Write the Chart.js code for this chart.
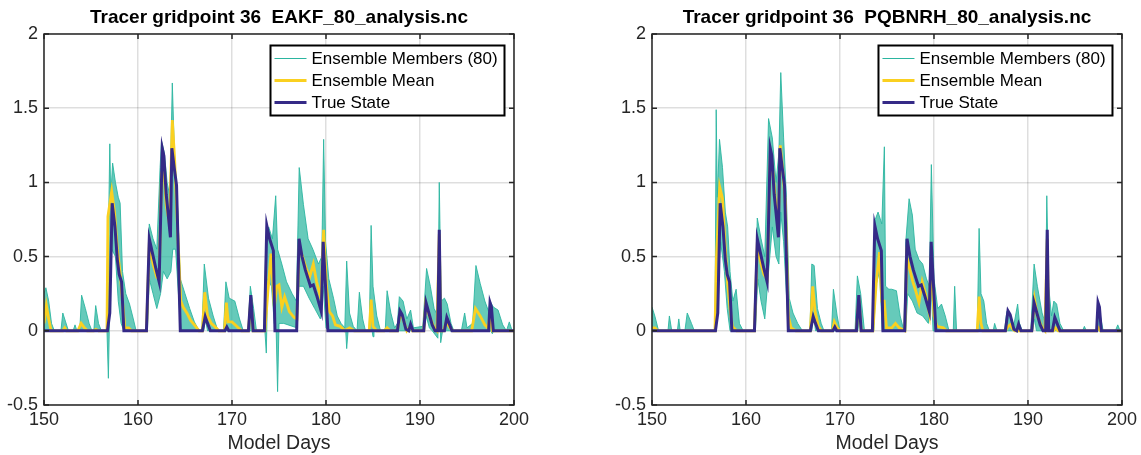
<!DOCTYPE html>
<html>
<head>
<meta charset="utf-8">
<script src="https://cdn.jsdelivr.net/npm/chart.js@4.4.1/dist/chart.umd.min.js"></script>
<style>
  html, body { margin: 0; padding: 0; background: #fff; }
  .panel { position: absolute; top: 0; height: 455px; }
  #p1 { left: 0; width: 570px; }
  #p2 { left: 570px; width: 571px; }
</style>
</head>
<body>
<div class="panel" id="p1"><canvas id="chartEakf"></canvas></div>
<div class="panel" id="p2"><canvas id="chartPq"></canvas></div>
<script>
// x ticks / y ticks
const dayTicks = [150, 160, 170, 180, 190, 200];
const valueTicks = [-0.5, 0, 0.5, 1, 1.5, 2];
const legendLabels = ["Ensemble Members (80)", "Ensemble Mean", "True State"];

// true state (same in both panels) : [model day, value]
const trueState = [[150,0],[156.75,0],[157.0,0.12],[157.25,0.86],[157.55,0.7],[157.8,0.48],[158.0,0.38],[158.25,0.33],[158.5,0],
  [160.9,0],[161.2,0.62],[161.55,0.52],[161.9,0.42],[162.25,0.33],[162.58,1.23],[162.75,1.18],[163.0,0.92],[163.25,0.76],[163.45,0.63],[163.6,1.23],[163.85,1.1],[164.1,0.98],[164.5,0],
  [166.85,0],[167.15,0.095],[167.4,0.05],[167.7,0],[169.25,0],[169.45,0.025],[169.65,0],
  [171.75,0],[172.0,0.24],[172.25,0],[173.45,0],[173.7,0.71],[174.0,0.62],[174.4,0.54],[174.57,0],
  [176.88,0],[177.13,0.62],[177.45,0.5],[177.8,0.41],[178.1,0.35],[178.35,0.3],[178.65,0.31],[179.0,0.24],[179.5,0.13],[179.7,0.6],[179.95,0.3],[180.2,0],
  [187.6,0],[187.87,0.135],[188.1,0.11],[188.5,0.01],[188.8,0],[189.0,0.045],[189.25,0],
  [190.4,0],[190.64,0.19],[190.9,0.13],[191.3,0.04],[191.6,0],[191.88,0],[192.05,0.68],[192.2,0],
  [192.6,0],[192.85,0.09],[193.1,0.05],[193.4,0],[197.3,0],[197.45,0.19],[197.6,0.16],[197.8,0],[200,0]];

// EAKF panel
const eakfMean = [[150,0.05],[150.25,0.17],[150.5,0.08],[150.75,0],[152.0,0],[152.2,0.02],[152.4,0],[153.6,0],[153.95,0.05],[154.3,0.02],[154.6,0],[155.3,0],[155.5,0.01],[155.8,0],
  [156.7,0],[156.8,0.77],[157.2,0.94],[157.5,0.8],[157.8,0.55],[158.1,0.39],[158.35,0.2],[158.6,0.02],[159.0,0.02],[159.3,0],
  [160.9,0],[161.2,0.58],[161.6,0.45],[162.0,0.36],[162.25,0.35],[162.5,1.06],[162.75,1.1],[163.0,0.85],[163.35,0.72],[163.65,1.42],[163.9,1.15],[164.2,0.7],[164.55,0.2],[164.8,0.16],[165.2,0.12],[165.6,0.07],[166.0,0.04],[166.5,0],
  [166.85,0],[167.1,0.26],[167.4,0.1],[167.8,0.05],[168.3,0.02],[168.6,0],[169.2,0],[169.4,0.19],[169.6,0.06],[170.0,0.06],[170.5,0.03],[171.0,0],
  [171.75,0],[172.0,0.21],[172.25,0],[173.5,0],[173.8,0.25],[174.15,0.52],[174.5,0.16],[174.75,0.3],[175.0,0.31],[175.3,0.16],[175.6,0.23],[176.1,0.13],[176.6,0.09],[176.9,0.08],
  [177.15,0.57],[177.5,0.5],[177.9,0.42],[178.25,0.36],[178.65,0.45],[179.0,0.33],[179.45,0.22],[179.75,0.68],[180.05,0.3],[180.35,0.13],[180.7,0.1],[181.0,0.04],[181.5,0.03],[182.0,0],
  [182.5,0.02],[183.0,0],[184.6,0],[184.8,0.21],[185.0,0.03],[185.4,0],[186.2,0],[186.5,0.02],[186.8,0],
  [187.6,0],[187.9,0.12],[188.2,0.08],[188.6,0],[189.0,0.03],[189.2,0],[190.4,0],[190.6,0.18],[191.0,0.1],[191.5,0.02],[191.8,0],[192.05,0.65],[192.2,0],
  [192.5,0],[192.8,0.06],[193.2,0.02],[193.5,0],[195.5,0],[195.9,0.15],[196.4,0.1],[196.9,0.04],[197.2,0.02],[197.45,0.1],[197.7,0],[200,0]];

const eakfMax = [[150,0.25],[150.2,0.29],[150.5,0.2],[150.8,0.05],[151.1,0],[151.8,0],[152.0,0.12],[152.3,0.06],[152.6,0],[153.1,0],[153.3,0.04],[153.5,0],[153.8,0],[154.0,0.24],[154.4,0.15],[154.8,0.05],[155.1,0],[155.3,0],[155.5,0.17],[155.8,0.05],[156.1,0],
  [156.7,0],[157.0,1.26],[157.1,0.9],[157.3,1.13],[157.6,1.0],[157.9,0.9],[158.1,0.86],[158.35,0.4],[158.7,0.25],[159.1,0.18],[159.5,0.08],[159.8,0],
  [160.9,0],[161.2,0.72],[161.6,0.62],[162.0,0.55],[162.35,1.1],[162.5,1.28],[162.8,1.2],[163.1,1.0],[163.4,0.9],[163.65,1.67],[163.9,1.15],[164.2,0.85],[164.5,0.35],[165.0,0.25],[165.5,0.15],[166.0,0.06],[166.5,0],
  [166.8,0],[167.05,0.45],[167.5,0.22],[168.0,0.1],[168.5,0],[169.1,0],[169.35,0.33],[169.7,0.22],[170.3,0.2],[170.8,0.08],[171.2,0],
  [171.7,0],[171.95,0.3],[172.3,0.15],[172.6,0],[173.4,0],[173.6,0.6],[173.9,0.7],[174.3,0.62],[174.65,0.91],[174.85,0.55],[175.3,0.45],[175.8,0.33],[176.4,0.25],[176.85,0.2],
  [177.15,1.1],[177.6,0.85],[178.1,0.62],[178.6,0.55],[179.2,0.45],[179.55,0.5],[179.75,1.29],[179.95,0.6],[180.3,0.35],[180.8,0.22],[181.2,0.1],[181.6,0.05],[182.0,0.02],[182.2,0.47],[182.5,0.12],[182.9,0.03],
  [183.3,0],[183.55,0.26],[183.9,0.08],[184.2,0],[184.6,0],[184.8,0.71],[185.0,0.3],[185.4,0.1],[185.8,0],[186.3,0],[186.5,0.27],[186.9,0.12],[187.3,0.02],[187.6,0.05],[187.8,0.23],[188.2,0.2],[188.6,0.08],[189.0,0.14],[189.3,0.02],
  [190.3,0.03],[190.7,0.42],[191.1,0.3],[191.5,0.15],[191.9,0.1],[192.05,1.0],[192.25,0.2],[192.6,0.22],[192.9,0.18],[193.3,0.05],[193.6,0],[194.4,0],[194.75,0.12],[195.0,0.02],
  [195.6,0.05],[195.95,0.44],[196.4,0.32],[196.9,0.2],[197.3,0.13],[197.45,0.2],[197.8,0.16],[198.3,0.14],[198.8,0.04],[199.2,0],[199.5,0.06],[199.8,0],[200,0]];

const eakfMin = [[150,0],[156.7,0],[156.85,-0.32],[157.0,0.2],[157.2,0.55],[157.6,0.5],[157.9,0.2],[158.2,0.05],[158.5,0],
  [161.0,0],[161.2,0.35],[161.6,0.25],[162.0,0.15],[162.4,0.25],[162.7,0.4],[163.1,0.35],[163.5,0.4],[163.7,0.55],[164.0,0.55],[164.4,0.15],[164.6,0],
  [167.0,0],[167.15,0.08],[167.4,0],[173.5,0],[173.65,-0.15],[173.8,0.35],[174.2,0.3],[174.5,0.05],[174.7,0],[174.85,-0.41],[175.0,0.05],[175.5,0.05],[176.9,0.02],
  [177.1,0.3],[177.6,0.3],[178.2,0.22],[178.8,0.15],[179.4,0.08],[179.7,0.3],[180.0,0.02],[180.3,0],[182.1,0],[182.2,-0.12],[182.35,0],
  [184.9,0],[185.0,-0.04],[185.1,0],[190.4,0],[190.65,0.1],[191.0,0.02],[191.3,0],[191.9,-0.05],[192.05,0.6],[192.2,-0.08],[192.4,0],
  [197.5,0],[197.7,-0.02],[197.8,0],[200,0]];

// PQBNRH panel
const pqMean = [[150,0.02],[150.3,0.02],[150.6,0],[156.7,0],[156.85,0.48],[157.2,0.97],[157.5,0.89],[157.75,0.6],[158.05,0.32],[158.3,0.15],[158.55,0.03],[159.0,0],
  [160.9,0],[161.2,0.58],[161.6,0.45],[161.9,0.38],[162.25,0.35],[162.6,1.2],[162.9,1.05],[163.2,0.82],[163.45,0.75],[163.65,1.25],[163.95,1.05],[164.2,0.85],[164.5,0.1],[164.8,0.02],[165.3,0],
  [166.85,0],[167.1,0.3],[167.35,0.13],[167.7,0.03],[168.0,0],[169.2,0],[169.4,0.06],[169.7,0.02],[170.0,0],
  [171.75,0],[172.0,0.22],[172.25,0],[173.5,0],[173.85,0.32],[174.2,0.53],[174.45,0.2],[174.7,0.2],[174.95,0.02],[175.5,0.02],[175.9,0.05],[176.3,0.02],[176.9,0],
  [177.1,0.5],[177.4,0.42],[177.75,0.33],[178.05,0.27],[178.4,0.19],[178.75,0.33],[179.1,0.25],[179.5,0.12],[179.7,0.5],[180.0,0.1],[180.3,0.03],[181.0,0.02],[181.3,0],
  [184.6,0],[184.8,0.23],[185.0,0.05],[185.2,0],[187.6,0],[187.9,0.03],[188.1,0.04],[188.4,0.01],[188.6,0],
  [190.4,0],[190.7,0.21],[191.0,0.1],[191.5,0.02],[191.8,0],[192.05,0.62],[192.2,0],[192.7,0],[192.9,0.02],[193.2,0],[197.3,0],[197.5,0.02],[197.7,0],[200,0]];

const pqMax = [[150,0.16],[150.3,0.1],[150.7,0],[151.7,0],[151.85,0.1],[152.1,0],[152.7,0],[152.85,0.08],[153.0,0],[153.5,0],[153.75,0.12],[154.2,0.05],[154.5,0],
  [156.7,0],[156.83,1.49],[156.95,0.9],[157.18,1.29],[157.5,1.1],[157.8,0.8],[158.05,0.7],[158.3,0.4],[158.6,0.2],[158.95,0.28],[159.3,0.05],[159.7,0],
  [160.9,0],[161.2,0.76],[161.6,0.62],[162.0,0.5],[162.4,1.43],[162.8,1.3],[163.2,1.0],[163.5,1.2],[163.7,1.74],[164.0,1.3],[164.3,0.9],[164.6,0.22],[165.0,0.12],[165.5,0.05],[166.0,0],
  [166.8,0],[167.0,0.45],[167.25,0.44],[167.6,0.15],[168.0,0.05],[168.3,0],[169.1,0],[169.3,0.28],[169.7,0.1],[170.0,0],
  [171.6,0],[171.85,0.37],[172.2,0.25],[172.6,0],[173.5,0],[173.75,0.75],[174.05,0.8],[174.45,0.72],[174.72,1.24],[174.85,0.3],[175.2,0.28],[175.5,0.28],[176.0,0.27],[176.4,0.1],[176.8,0],
  [177.0,0.6],[177.35,0.89],[177.7,0.78],[178.0,0.55],[178.4,0.48],[178.8,0.45],[179.2,0.35],[179.5,0.3],[179.72,1.12],[180.0,0.35],[180.4,0.15],[180.8,0.18],[181.2,0.1],[181.6,0],
  [182.05,0],[182.2,0.3],[182.4,0],[184.6,0],[184.8,0.69],[185.0,0.25],[185.3,0.2],[185.6,0.05],[185.9,0],[186.3,0],[186.45,0.05],[186.7,0],
  [187.5,0],[187.75,0.13],[188.1,0.1],[188.5,0.04],[188.9,0.18],[189.1,0.05],[189.4,0],[190.3,0],[190.65,0.45],[191.0,0.3],[191.5,0.12],[191.85,0.05],[192.0,0.91],[192.2,0.3],[192.5,0.1],
  [192.75,0.2],[193.05,0.18],[193.4,0.05],[193.8,0],[195.8,0],[196.0,0.03],[196.2,0],[197.3,0],[197.45,0.2],[197.7,0.1],[198.0,0],[199.3,0],[199.55,0.04],[199.8,0],[200,0]];

const pqMin = [[150,0],[156.8,0],[157.0,0.3],[157.3,0.6],[157.7,0.4],[158.0,0.15],[158.3,0],
  [161.0,0],[161.25,0.35],[161.6,0.2],[162.0,0.08],[162.4,0.4],[162.8,0.7],[163.2,0.5],[163.5,0.45],[163.7,0.8],[164.0,0.6],[164.3,0.25],[164.5,0],
  [167.0,0],[167.15,0.12],[167.4,0],[171.9,0],[172.05,0.1],[172.2,0],[173.6,0],[173.8,0.3],[174.2,0.4],[174.5,0],
  [177.0,0],[177.2,0.25],[177.7,0.2],[178.2,0.12],[178.8,0.1],[179.4,0.05],[179.7,0.3],[179.9,0],
  [190.5,0],[190.7,0.08],[190.9,0],[191.9,0],[192.0,0.6],[192.15,0],[200,0]];

const TEAL = "rgb(43,181,160)";
const TEAL_FILL = "rgba(43,181,160,0.72)";
const YELLOW = "rgb(250,208,32)";
const NAVY = "rgb(53,42,135)";
const FONT = "Liberation Sans, Arial, Helvetica, sans-serif";

const toXY = arr => arr.map(p => ({ x: p[0], y: p[1] }));

// title over the axes, box + inward ticks + legend, matlab style
const matlabAxes = {
  id: "matlabAxes",
  afterDraw(chart, args, opts) {
    const { ctx, chartArea: a, scales } = chart;
    ctx.save();
    ctx.fillStyle = "#000";
    ctx.font = "bold 19px " + FONT;
    ctx.textAlign = "center";
    ctx.textBaseline = "middle";
    ctx.fillText(opts.title, (a.left + a.right) / 2, 18);

    ctx.strokeStyle = "#262626";
    ctx.lineWidth = 1.5;
    ctx.beginPath();
    dayTicks.forEach(t => {
      const x = scales.x.getPixelForValue(t);
      ctx.moveTo(x, a.bottom); ctx.lineTo(x, a.bottom - 5);
      ctx.moveTo(x, a.top); ctx.lineTo(x, a.top + 5);
    });
    valueTicks.forEach(t => {
      const y = scales.y.getPixelForValue(t);
      ctx.moveTo(a.left, y); ctx.lineTo(a.left + 5, y);
      ctx.moveTo(a.right, y); ctx.lineTo(a.right - 5, y);
    });
    ctx.stroke();
    ctx.strokeRect(a.left, a.top, a.right - a.left, a.bottom - a.top);

    // legend
    const w = 234, h = 70;
    const bx = a.right - 9.5 - w, by = a.top + 11.5;
    ctx.fillStyle = "#fff";
    ctx.fillRect(bx, by, w, h);
    ctx.strokeStyle = "#000";
    ctx.lineWidth = 2;
    ctx.strokeRect(bx, by, w, h);
    const styles = [[TEAL, 1], [YELLOW, 2.8], [NAVY, 2.8]];
    ctx.font = "17px " + FONT;
    ctx.textAlign = "left";
    legendLabels.forEach((lab, i) => {
      const y = by + 13 + i * 22;
      ctx.strokeStyle = styles[i][0];
      ctx.lineWidth = styles[i][1];
      ctx.beginPath();
      ctx.moveTo(bx + 4, y); ctx.lineTo(bx + 36, y);
      ctx.stroke();
      ctx.fillStyle = "#000";
      ctx.fillText(lab, bx + 41, y + 1);
    });
    ctx.restore();
  }
};

function makeChart(canvasId, title, mean, maxEnv, minEnv, padLeft, padRight) {
  const el = document.getElementById(canvasId);
  return new Chart(el, {
    type: "line",
    data: {
      datasets: [
        { data: toXY(trueState), borderColor: NAVY, borderWidth: 3, order: 1, fill: false },
        { data: toXY(mean), borderColor: YELLOW, borderWidth: 2.8, order: 2, fill: false },
        { data: toXY(maxEnv), borderColor: TEAL, borderWidth: 0.9, order: 3, fill: false },
        { data: toXY(minEnv), borderColor: TEAL, borderWidth: 0.9, order: 4, fill: 2, backgroundColor: TEAL_FILL },
      ],
    },
    options: {
      responsive: true,
      maintainAspectRatio: false,
      animation: false,
      elements: { point: { radius: 0 }, line: { tension: 0 } },
      layout: { padding: { left: padLeft, right: padRight, top: 34, bottom: 0 } },
      plugins: {
        legend: { display: false },
        tooltip: { enabled: false },
        title: { display: false },
        matlabAxes: { title: title },
      },
      scales: {
        x: {
          type: "linear",
          min: 150, max: 200,
          afterBuildTicks: s => { s.ticks = dayTicks.map(v => ({ value: v })); },
          afterFit: s => { s.height = 50; },
          grid: { color: "rgba(0,0,0,0.13)", lineWidth: 1.5, drawTicks: false },
          border: { display: false },
          ticks: { color: "#262626", padding: 4, font: { family: FONT, size: 18 }, maxRotation: 0 },
          title: { display: true, text: "Model Days", color: "#262626", font: { family: FONT, size: 19.5 }, padding: { top: 0, bottom: 0 } },
        },
        y: {
          min: -0.5, max: 2,
          afterBuildTicks: s => { s.ticks = valueTicks.map(v => ({ value: v })); },
          afterFit: s => { s.width = 44; },
          grid: { color: "rgba(0,0,0,0.13)", lineWidth: 1.5, drawTicks: false },
          border: { display: false },
          ticks: { color: "#262626", padding: 6, font: { family: FONT, size: 18 }, callback: v => String(v) },
        },
      },
    },
    plugins: [matlabAxes],
  });
}

makeChart("chartEakf", "Tracer gridpoint 36  EAKF_80_analysis.nc", eakfMean, eakfMax, eakfMin, 0, 56);
makeChart("chartPq", "Tracer gridpoint 36  PQBNRH_80_analysis.nc", pqMean, pqMax, pqMin, 38, 18);
</script>
</body>
</html>
